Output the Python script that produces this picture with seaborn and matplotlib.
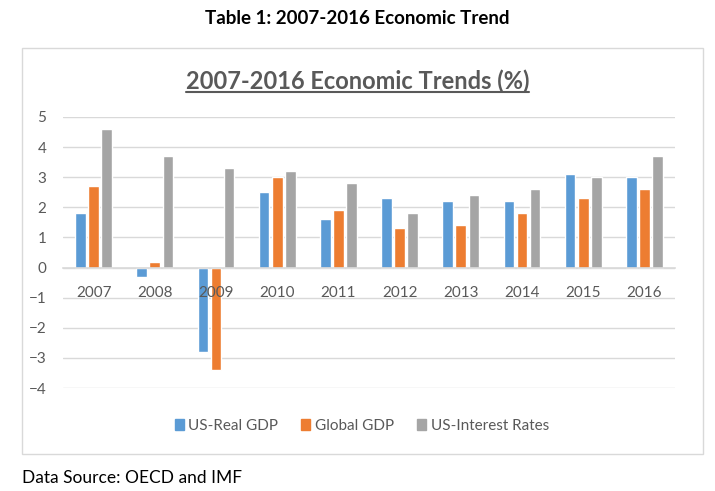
import numpy as np
import pandas as pd
import matplotlib
matplotlib.use("Agg")
import matplotlib.pyplot as plt
import seaborn as sns
from matplotlib.patches import Rectangle
from matplotlib.lines import Line2D

years = ["2007", "2008", "2009", "2010", "2011", "2012", "2013", "2014", "2015", "2016"]
us_real_gdp = [1.8, -0.3, -2.8, 2.5, 1.6, 2.3, 2.2, 2.2, 3.1, 3.0]
global_gdp = [2.7, 0.2, -3.4, 3.0, 1.9, 1.3, 1.4, 1.8, 2.3, 2.6]
us_interest = [4.6, 3.7, 3.3, 3.2, 2.8, 1.8, 2.4, 2.6, 3.0, 3.7]
series_names = ["US-Real GDP", "Global GDP", "US-Interest Rates"]
colors = ["#5B9BD5", "#ED7D31", "#A5A5A5"]

df = pd.DataFrame({"year": years * 3,
                   "value": us_real_gdp + global_gdp + us_interest,
                   "series": np.repeat(series_names, len(years))})

sns.set_style("white")
plt.rcParams["font.family"] = ["Lato", "DejaVu Sans"]

fig = plt.figure(figsize=(7.15, 4.91), dpi=100)
ax = fig.add_axes([63/715, 1-388/491, (675-63)/715, (388-117)/491])

sns.barplot(data=df, x="year", y="value", hue="series", palette=colors,
            width=0.64, gap=0.18, ax=ax, legend=False, saturation=1)

ax.set_ylim(-4, 5)
ax.set_xlim(-0.5, len(years)-0.5)
ax.set_yticks(range(-4, 6))
ax.yaxis.grid(True, color="#D9D9D9", lw=1)
ax.set_axisbelow(True)
ax.xaxis.set_zorder(5)  # year labels sit on top of the bars, like Excel
for s in ["top", "right", "left"]:
    ax.spines[s].set_visible(False)
ax.spines["bottom"].set_position(("data", 0))
ax.spines["bottom"].set_color("#D9D9D9")
ax.spines["bottom"].set_linewidth(1.2)
ax.tick_params(axis="both", length=0, labelsize=11, labelcolor="#595959")
ax.tick_params(axis="x", pad=13)
ax.tick_params(axis="y", pad=12)
ax.set_xlabel("")
ax.set_ylabel("")

# chart border
fig.patches.append(Rectangle((22/715, 1-454/491), (703-22)/715, (454-48)/491,
                             transform=fig.transFigure, fill=False,
                             edgecolor="#D9D9D9", lw=1))

fig.text(0.5, 1-18/491, "Table 1: 2007-2016 Economic Trend", ha="center", va="center",
         fontsize=13.5, fontweight="bold", color="black")
t = fig.text(0.5, 1-81/491, "2007-2016 Economic Trends (%)", ha="center", va="center",
             fontsize=17, fontweight="bold", color="#595959")
fig.text(22/715, 1-478/491, "Data Source: OECD and IMF", ha="left", va="center",
         fontsize=12.5, color="black")

handles = [Rectangle((0, 0), 1, 1, color=c) for c in colors]
fig.legend(handles, series_names, loc="center", bbox_to_anchor=(0.506, 1-426/491),
           ncol=3, frameon=False, fontsize=11, handlelength=0.6, handleheight=0.75,
           handletextpad=0.3, columnspacing=1.5, labelcolor="#595959")

# underline for chart title
fig.canvas.draw()
bb = t.get_window_extent().transformed(fig.transFigure.inverted())
fig.lines.append(Line2D([bb.x0, bb.x1], [bb.y0 + 0.002, bb.y0 + 0.002],
                        transform=fig.transFigure, color="#595959", lw=1.5))

fig.savefig("out.png", dpi=100)
